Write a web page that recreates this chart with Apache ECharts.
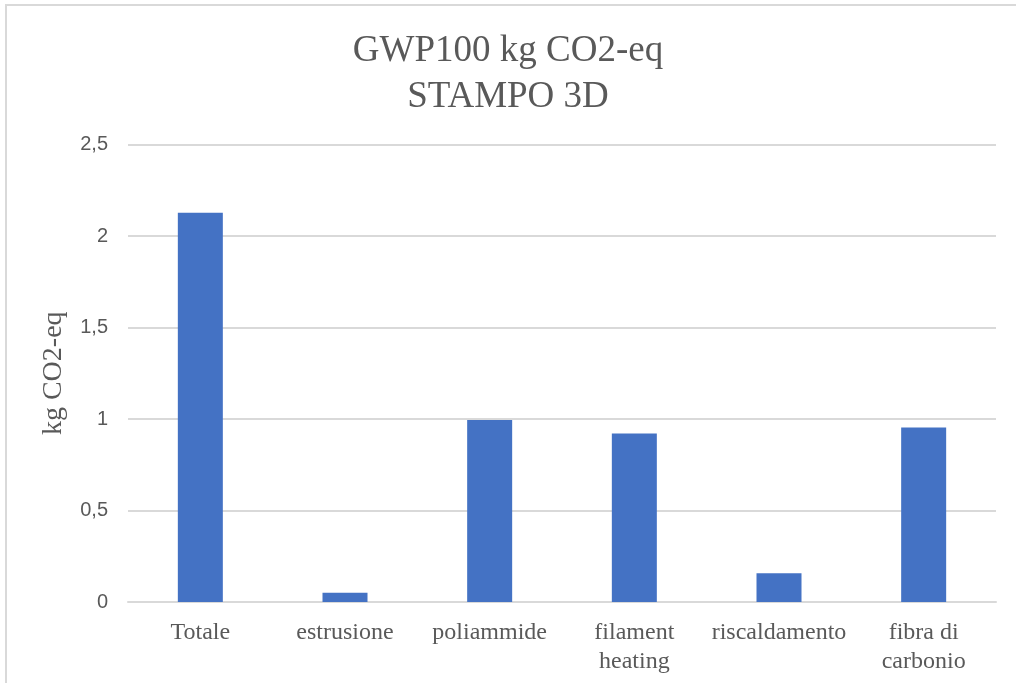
<!DOCTYPE html>
<html>
<head>
<meta charset="utf-8">
<script src="https://cdn.jsdelivr.net/npm/echarts@6/dist/echarts.min.js"></script>
<style>
  html, body { margin: 0; padding: 0; background: #fff; }
  #frame { position: absolute; left: 5px; top: 4px; width: 1020px; height: 690px;
           border-left: 2px solid #d9d9d9; border-top: 2px solid #d9d9d9; box-sizing: border-box; }
  #chart { position: absolute; left: 0; top: 0; width: 1016px; height: 683px; }
</style>
</head>
<body>
<div id="frame"></div>
<div id="chart"></div>
<script>
// GWP100 contributions for the 3D-printed mould
const titleLines = ['GWP100 kg CO2-eq', 'STAMPO 3D'];
const categories = ['Totale', 'estrusione', 'poliammide', 'filament\nheating', 'riscaldamento', 'fibra di\ncarbonio'];
const values = [2.127, 0.051, 0.995, 0.921, 0.157, 0.954];
const yTicks = [0, 0.5, 1, 1.5, 2, 2.5];
const yAxisTitle = 'kg CO2-eq';

const serif = '"Liberation Serif", "Times New Roman", serif';
const sans = '"Liberation Sans", Arial, sans-serif';

const chart = echarts.init(document.getElementById('chart'));
chart.setOption({
  animation: false,
  backgroundColor: 'transparent',
  title: {
    text: titleLines.join('\n'),
    left: 'center',
    top: 23,
    textStyle: { fontFamily: serif, fontSize: 37, fontWeight: 'normal', color: '#595959', lineHeight: 46 }
  },
  grid: { left: 128, right: 20, top: 144.5, bottom: 81 },
  xAxis: {
    type: 'category',
    data: categories,
    axisLine: { lineStyle: { color: '#d9d9d9', width: 2 } },
    axisTick: { show: false },
    axisLabel: { fontFamily: serif, fontSize: 24, color: '#595959', lineHeight: 29, margin: 16, interval: 0 }
  },
  yAxis: {
    type: 'value',
    min: yTicks[0],
    max: yTicks[yTicks.length - 1],
    interval: 0.5,
    name: yAxisTitle,
    nameLocation: 'middle',
    nameRotate: 90,
    nameGap: 60,
    nameTextStyle: { fontFamily: serif, fontSize: 28, color: '#595959' },
    axisLine: { show: false },
    axisTick: { show: false },
    splitLine: { lineStyle: { color: '#d9d9d9', width: 2 } },
    axisLabel: {
      fontFamily: sans, fontSize: 20, color: '#595959', margin: 20,
      formatter: v => String(v).replace('.', ',')
    }
  },
  series: [{
    type: 'bar',
    data: values,
    barWidth: 45,
    itemStyle: { color: '#4472c4' }
  }]
});
</script>
</body>
</html>
